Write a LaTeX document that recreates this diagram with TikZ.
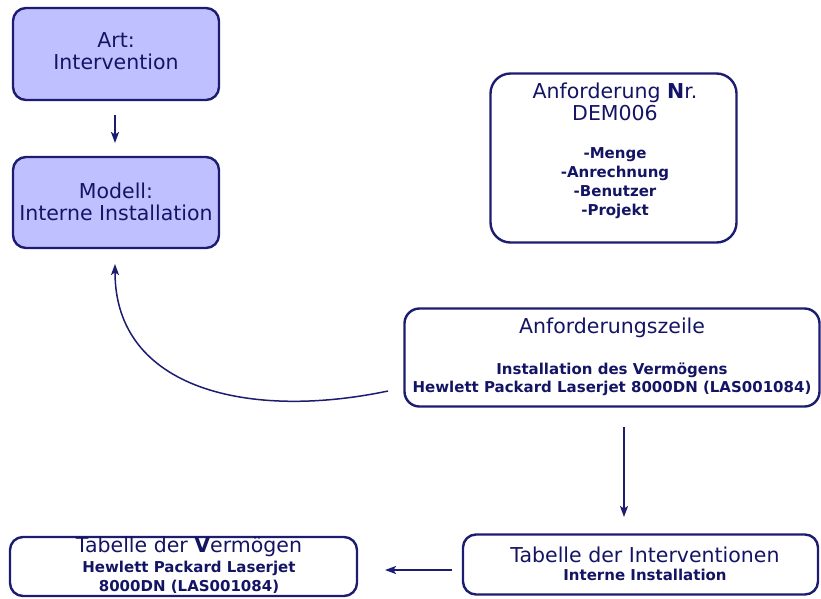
\documentclass[tikz,border=0pt]{standalone}
\usepackage{fontspec}
\setmainfont{DejaVu Sans}
\usetikzlibrary{arrows.meta}
\definecolor{navy}{RGB}{28,28,112}
\definecolor{txt}{RGB}{20,20,100}
\definecolor{lav}{RGB}{191,192,255}
\tikzset{
  box/.style={draw=navy, line width=2.4pt, rounded corners=13pt, inner sep=0pt},
  lavbox/.style={box, fill=lav},
  ttl/.style={anchor=base, align=center, text=txt, inner sep=0pt,
    font=\fontsize{20.5}{21.5}\selectfont},
  bdy/.style={anchor=base, align=center, text=txt, inner sep=0pt,
    font=\bfseries\fontsize{15}{18.7}\selectfont},
  conn/.style={draw=navy, line width=1.5pt, -{Stealth[length=11pt,width=8pt,inset=2.5pt]}}
}
\begin{document}
\begin{tikzpicture}[x=1pt,y=-1pt]
\useasboundingbox (0,0) rectangle (821,598);
% boxes
\node[lavbox, minimum width=206pt, minimum height=92pt] (art) at (116,54) {};
\node[lavbox, minimum width=206pt, minimum height=91pt] (modell) at (116,202.5) {};
\node[box, rounded corners=20pt, minimum width=246pt, minimum height=169pt] (anf) at (613.5,158) {};
\node[box, rounded corners=15pt, minimum width=415pt, minimum height=98pt] (zeile) at (612,357.5) {};
\node[box, minimum width=355pt, minimum height=60pt] (interv) at (640.5,564.5) {};
\node[box, minimum width=347pt, minimum height=59pt] (verm) at (183.5,566.5) {};
% texts (base = baseline of the last line)
\node[ttl] (artT) at (116,69) {Art:\\Intervention};
\node[ttl] (modellT) at (116,220) {Modell:\\Interne Installation};
\node[ttl, font=\fontsize{20.5}{22}\selectfont] (anfT) at (615,120) {Anforderung \textbf{N}r.\\DEM006};
\node[bdy] (anfB) at (615,215) {-Menge\\-Anrechnung\\-Benutzer\\-Projekt};
\node[ttl] (zeileT) at (612,333) {Anforderungszeile};
\node[bdy, font=\bfseries\fontsize{15}{18}\selectfont] (zeileB) at (612,392) {Installation des Vermögens\\Hewlett Packard Laserjet 8000DN (LAS001084)};
\node[ttl] (intervT) at (645,562) {Tabelle der Interventionen};
\node[bdy] (intervB) at (645,580) {Interne Installation};
\node[ttl] (vermT) at (189,552) {Tabelle der \textbf{V}ermögen};
\node[bdy, font=\bfseries\fontsize{15}{19}\selectfont] (vermB) at (189,591) {Hewlett Packard Laserjet\\8000DN (LAS001084)};
% connector anchor points
\coordinate (a1) at (115,115);
\coordinate (a2) at (115,143);
\coordinate (c1) at (388,391);
\coordinate (c2) at (115,264);
\coordinate (d1) at (624,427);
\coordinate (d2) at (624,517);
\coordinate (e1) at (452,570);
\coordinate (e2) at (385,570);
\draw[conn] (a1) -- (a2);
\draw[conn] (c1) .. controls (250,420) and (115,390) .. (c2);
\draw[conn] (d1) -- (d2);
\draw[conn] (e1) -- (e2);
\end{tikzpicture}
\end{document}
